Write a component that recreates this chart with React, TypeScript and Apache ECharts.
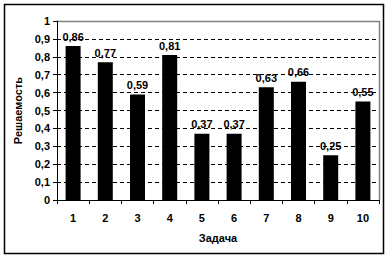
import React, { useEffect, useRef } from "react";
import * as echarts from "echarts";

const categories = ["1", "2", "3", "4", "5", "6", "7", "8", "9", "10"];
const values = [0.86, 0.77, 0.59, 0.81, 0.37, 0.37, 0.63, 0.66, 0.25, 0.55];
const yTicks = [0, 0.1, 0.2, 0.3, 0.4, 0.5, 0.6, 0.7, 0.8, 0.9, 1];
const xTitle = "Задача";
const yTitle = "Решаемость";

const fmt = (v: number) =>
  v === 0 || v === 1 ? String(v) : v.toFixed(2).replace(/0$/, "").replace(".", ",");

export default function App() {
  const ref = useRef<HTMLDivElement>(null);
  useEffect(() => {
    if (!ref.current) return;
    const chart = echarts.init(ref.current, null, { renderer: "svg" });
    const font = "'Liberation Sans', Arial, sans-serif";
    const L = 57, T = 21, R = 379, B = 200;
    chart.setOption({
      animation: false,
      backgroundColor: "#ffffff",
      textStyle: { fontFamily: font },
      grid: { left: L, top: T, right: 391 - R, bottom: 259 - B },
      xAxis: {
        type: "category",
        data: categories,
        boundaryGap: true,
        name: xTitle,
        nameLocation: "middle",
        nameGap: 32,
        nameTextStyle: { color: "#000", fontWeight: "bold", fontSize: 11, fontFamily: font },
        axisLine: { show: true, lineStyle: { color: "#000", width: 1 } },
        axisTick: { show: true, inside: false, length: 4, interval: 0, lineStyle: { color: "#000" } },
        axisLabel: { color: "#000", fontWeight: "bold", fontSize: 11, margin: 12, interval: 0, fontFamily: font },
        splitLine: { show: false },
      },
      yAxis: {
        type: "value",
        min: 0,
        max: 1,
        interval: 0.1,
        name: yTitle,
        nameLocation: "middle",
        nameGap: 30,
        nameRotate: 90,
        nameTextStyle: { color: "#000", fontWeight: "bold", fontSize: 11, fontFamily: font },
        axisLine: { show: true, lineStyle: { color: "#000", width: 1 } },
        axisTick: { show: true, inside: false, length: 4, lineStyle: { color: "#000" } },
        axisLabel: {
          color: "#000",
          fontWeight: "bold",
          fontSize: 11,
          margin: 7,
          fontFamily: font,
          formatter: (v: number) => {
            const t = yTicks.find((x) => Math.abs(x - v) < 1e-6);
            return fmt(t === undefined ? v : t);
          },
        },
        splitLine: {
          show: true,
          showMinLine: false,
          showMaxLine: false,
          lineStyle: { color: "#000", type: [4, 3], width: 1 },
        },
      },
      series: [
        {
          type: "bar",
          data: values,
          barWidth: 15,
          itemStyle: { color: "#000" },
          label: {
            show: true,
            position: "top",
            distance: 4,
            color: "#000",
            fontWeight: "bold",
            fontSize: 11,
            fontFamily: font,
            formatter: (p: any) => fmt(p.value),
          },
        },
      ],
      graphic: [
        {
          type: "rect",
          shape: { x: 4.5, y: 4.5, width: 379, height: 249 },
          style: { fill: "none", stroke: "#000", lineWidth: 1.5 },
          silent: true,
        },
        {
          type: "polyline",
          shape: { points: [[L, T + 0.5], [R + 0.5, T + 0.5], [R + 0.5, B]] },
          style: { fill: "none", stroke: "#808080", lineWidth: 1.5 },
          silent: true,
        },
      ],
    });
    return () => chart.dispose();
  }, []);
  return (
    <div
      ref={ref}
      style={{ position: "fixed", left: 0, top: 0, width: 391, height: 259, background: "#fff" }}
    />
  );
}
